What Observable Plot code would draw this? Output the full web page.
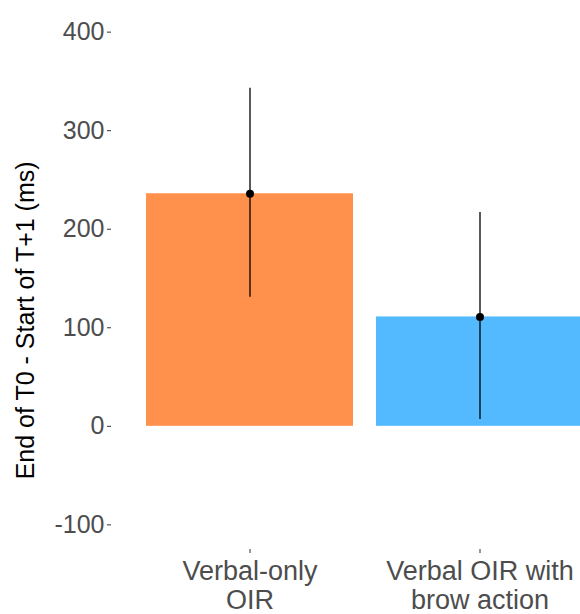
<!DOCTYPE html>
<html>
<head>
<meta charset="utf-8">
<script src="https://cdn.jsdelivr.net/npm/d3@7"></script>
<script src="https://cdn.jsdelivr.net/npm/@observablehq/plot@0.6"></script>
<style>
  html, body { margin: 0; padding: 0; background: #fff; overflow: hidden; }
  #chart svg { overflow: hidden; }
</style>
</head>
<body>
<div id="chart"></div>
<script>
const categories = ["Verbal-only\nOIR", "Verbal OIR with\nbrow action"];
const means = [236, 111];
const lower = [131, 7];
const upper = [343, 217];
const colors = ["#FF914D", "#54BAFF"];
const yTicks = [-100, 0, 100, 200, 300, 400];
const yTitle = "End of T0 - Start of T+1 (ms)";

const data = categories.map((c, i) => ({cat: c, mean: means[i], lo: lower[i], hi: upper[i], color: colors[i]}));

const chart = Plot.plot({
  width: 580,
  height: 614,
  marginTop: 7,
  marginBottom: 65,
  marginLeft: 111,
  marginRight: 0,
  style: {fontFamily: "'Liberation Sans', Arial, sans-serif", background: "#fff"},
  x: {domain: categories, range: [111, 617], paddingInner: 0.1, paddingOuter: 0.15, align: 0.5},
  y: {domain: [-125, 425]},
  marks: [
    Plot.barY(data, {x: "cat", y: "mean", fill: "color"}),
    Plot.ruleX(data, {x: "cat", y1: "lo", y2: "hi", stroke: "#000", strokeWidth: 1.3}),
    Plot.dot(data, {x: "cat", y: "mean", r: 4, fill: "#000"}),
    Plot.axisY({ticks: yTicks, tickFormat: d => String(d), tickSize: 4, tickPadding: 3, stroke: "#333", fill: "#4D4D4D", fontSize: 25, label: null}),
    Plot.axisX({tickSize: 4, tickPadding: 6, stroke: "#333", fill: "#4D4D4D", fontSize: 27, lineHeight: 1.08, label: null}),
    Plot.text([yTitle], {frameAnchor: "left", y: [107.5], dx: -86, rotate: -90, textAnchor: "middle", fontSize: 25, fill: "#000"})
  ]
});
document.getElementById("chart").appendChild(chart);
</script>
</body>
</html>
